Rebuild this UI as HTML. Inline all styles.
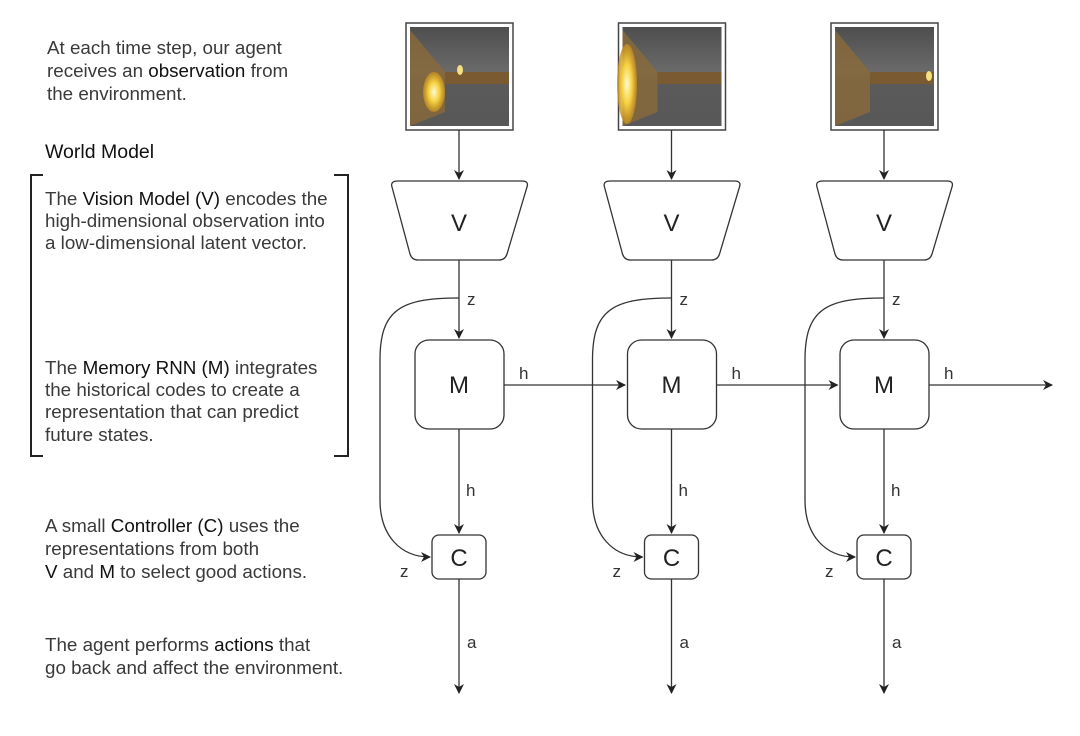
<!DOCTYPE html>
<html><head><meta charset="utf-8"><style>
html,body{margin:0;padding:0;background:#fff;}
svg{display:block;font-family:"Liberation Sans",sans-serif;}
.t{font-size:18.8px;fill:#3a3a3a;}
.b{fill:#111;}
.l{font-size:17px;fill:#333;}
.big{font-size:24px;fill:#222;}
</style></head><body>
<svg width="1080" height="736" viewBox="0 0 1080 736" xmlns="http://www.w3.org/2000/svg">
<defs>
<marker id="ar" markerWidth="10" markerHeight="10" refX="9" refY="5" orient="auto" markerUnits="userSpaceOnUse">
<path d="M0,0 L10,5 L0,10 L3,5 z" fill="#222"/></marker>
<linearGradient id="sky" x1="0" y1="0" x2="0" y2="1">
<stop offset="0" stop-color="#4e4e4e"/><stop offset="0.45" stop-color="#6a6a6a"/><stop offset="0.55" stop-color="#5a5a5a"/><stop offset="1" stop-color="#585858"/></linearGradient>
<radialGradient id="glow"><stop offset="0" stop-color="#fffbd0"/><stop offset="0.5" stop-color="#f5d040"/><stop offset="1" stop-color="#c08a20" stop-opacity="0.8"/></radialGradient>
</defs>
<g class="t">
<text x="47" y="54">At each time step, our agent</text>
<text x="47" y="77">receives an <tspan class="b">observation</tspan> from</text>
<text x="47" y="100">the environment.</text>
<text x="45" y="158" style="font-size:19.5px;fill:#111">World Model</text>
<text x="45" y="205">The <tspan class="b">Vision Model (V)</tspan> encodes the</text>
<text x="45" y="227">high-dimensional observation into</text>
<text x="45" y="249">a low-dimensional latent vector.</text>
<text x="45" y="374">The <tspan class="b">Memory RNN (M)</tspan> integrates</text>
<text x="45" y="396">the historical codes to create a</text>
<text x="45" y="418">representation that can predict</text>
<text x="45" y="441">future states.</text>
<text x="45" y="532">A small <tspan class="b">Controller (C)</tspan> uses the</text>
<text x="45" y="555">representations from both</text>
<text x="45" y="578"><tspan class="b">V</tspan> and <tspan class="b">M</tspan> to select good actions.</text>
<text x="45" y="651">The agent performs <tspan class="b">actions</tspan> that</text>
<text x="45" y="674">go back and affect the environment.</text>
</g>
<path d="M43,175 H31 V456 H43 M334,175 H348 V456 H334" fill="none" stroke="#222" stroke-width="2"/>

<g id="col" stroke="#333" stroke-width="1.3" fill="none">
<rect x="406" y="23" width="107" height="107" fill="#fff" stroke="#444" stroke-width="1.5"/>
<rect x="410" y="27" width="99" height="99" fill="url(#sky)" stroke="none"/>
<path d="M410,30 L445,72 L445,112 L410,126 z" fill="#8a6a3a" stroke="none" opacity="0.8"/>
<rect x="445" y="72" width="64" height="12" fill="#7a5a30" stroke="none"/>
<line x1="459" y1="130" x2="459" y2="179" marker-end="url(#ar)"/>
<path d="M398,181 H522 Q529,181 527,187 L507,254 Q505,260 499,260 H418 Q412,260 410,254 L392,187 Q390,181 398,181 z"/>
<line x1="459" y1="260" x2="459" y2="338" marker-end="url(#ar)"/>
<rect x="415" y="340" width="89" height="89" rx="14"/>
<line x1="459" y1="429" x2="459" y2="533" marker-end="url(#ar)"/>
<rect x="432" y="535" width="54" height="44" rx="7"/>
<line x1="459" y1="579" x2="459" y2="693" marker-end="url(#ar)"/>
<path d="M459,298 C400,298 380,310 380,360 L380,500 C380,535 400,557 430,557" marker-end="url(#ar)"/>
</g>
<use href="#col" x="212.5"/>
<use href="#col" x="425"/>
<ellipse cx="434" cy="92" rx="11" ry="20" fill="url(#glow)"/>
<ellipse cx="460" cy="70" rx="3" ry="5" fill="#f5e080"/>
<ellipse cx="627" cy="84" rx="10" ry="40" fill="url(#glow)"/>
<ellipse cx="929" cy="76" rx="3" ry="5" fill="#f5e080"/>
<g stroke="#333" stroke-width="1.3" fill="none">
<line x1="504" y1="385" x2="625" y2="385" marker-end="url(#ar)"/>
<line x1="716.5" y1="385" x2="837.5" y2="385" marker-end="url(#ar)"/>
<line x1="929" y1="385" x2="1052" y2="385" marker-end="url(#ar)"/>
</g>
<g class="big" text-anchor="middle">
<text x="459" y="231">V</text><text x="671.5" y="231">V</text><text x="884" y="231">V</text>
<text x="459" y="393">M</text><text x="671.5" y="393">M</text><text x="884" y="393">M</text>
<text x="459" y="566">C</text><text x="671.5" y="566">C</text><text x="884" y="566">C</text>
</g>
<g class="l">
<text x="467" y="305">z</text><text x="679.5" y="305">z</text><text x="892" y="305">z</text>
<text x="519" y="379">h</text><text x="731.5" y="379">h</text><text x="944" y="379">h</text>
<text x="466" y="496">h</text><text x="678.5" y="496">h</text><text x="891" y="496">h</text>
<text x="400" y="577">z</text><text x="612.5" y="577">z</text><text x="825" y="577">z</text>
<text x="467" y="648">a</text><text x="679.5" y="648">a</text><text x="892" y="648">a</text>
</g>
</svg>
</body></html>
